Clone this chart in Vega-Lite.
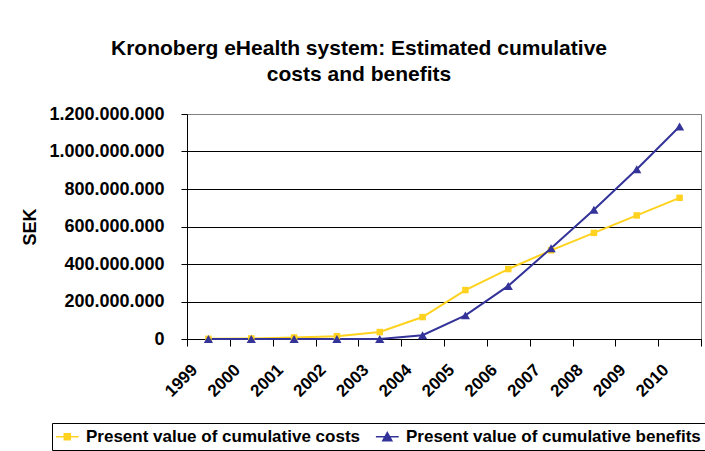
{
  "$schema": "https://vega.github.io/schema/vega-lite/v6.json",
  "autosize": {"type": "none"},
  "padding": {"left": 187, "top": 114, "right": 4, "bottom": 112},
  "width": 514,
  "height": 225,
  "background": "white",
  "title": {
    "text": ["Kronoberg eHealth system: Estimated cumulative", "costs and benefits"],
    "font": "Liberation Sans",
    "fontSize": 21,
    "fontWeight": "bold",
    "lineHeight": 26,
    "color": "black",
    "anchor": "middle",
    "dx": -85,
    "offset": 20
  },
  "config": {
    "locale": {"number": {"decimal": ",", "thousands": ".", "grouping": [3], "currency": ["", " kr"]}},
    "view": {"stroke": "#808080", "strokeWidth": 1}
  },
  "data": {
    "values": [
      {"year": "1999", "series": "Present value of cumulative costs", "value": 1000000},
      {"year": "2000", "series": "Present value of cumulative costs", "value": 3000000},
      {"year": "2001", "series": "Present value of cumulative costs", "value": 8000000},
      {"year": "2002", "series": "Present value of cumulative costs", "value": 15000000},
      {"year": "2003", "series": "Present value of cumulative costs", "value": 37000000},
      {"year": "2004", "series": "Present value of cumulative costs", "value": 117000000},
      {"year": "2005", "series": "Present value of cumulative costs", "value": 261000000},
      {"year": "2006", "series": "Present value of cumulative costs", "value": 373000000},
      {"year": "2007", "series": "Present value of cumulative costs", "value": 473000000},
      {"year": "2008", "series": "Present value of cumulative costs", "value": 566000000},
      {"year": "2009", "series": "Present value of cumulative costs", "value": 659000000},
      {"year": "2010", "series": "Present value of cumulative costs", "value": 753000000},
      {"year": "1999", "series": "Present value of cumulative benefits", "value": 0},
      {"year": "2000", "series": "Present value of cumulative benefits", "value": 0},
      {"year": "2001", "series": "Present value of cumulative benefits", "value": 0},
      {"year": "2002", "series": "Present value of cumulative benefits", "value": 0},
      {"year": "2003", "series": "Present value of cumulative benefits", "value": 0},
      {"year": "2004", "series": "Present value of cumulative benefits", "value": 20000000},
      {"year": "2005", "series": "Present value of cumulative benefits", "value": 126000000},
      {"year": "2006", "series": "Present value of cumulative benefits", "value": 283000000},
      {"year": "2007", "series": "Present value of cumulative benefits", "value": 484000000},
      {"year": "2008", "series": "Present value of cumulative benefits", "value": 689000000},
      {"year": "2009", "series": "Present value of cumulative benefits", "value": 905000000},
      {"year": "2010", "series": "Present value of cumulative benefits", "value": 1133000000}
    ]
  },
  "encoding": {
    "x": {
      "field": "year",
      "type": "ordinal",
      "bandPosition": 0.5,
      "scale": {"type": "band", "paddingInner": 0, "paddingOuter": 0},
      "axis": {
        "title": null,
        "labelAngle": -45,
        "labelAlign": "right",
        "labelBaseline": "middle",
        "labelFont": "Liberation Sans",
        "labelFontSize": 17,
        "labelFontWeight": "bold",
        "labelColor": "black",
        "labelPadding": 21,
        "labelOffset": -14,
        "labelOverlap": false,
        "tickSize": 7,
        "tickColor": "black",
        "tickBand": "extent",
        "domainColor": "black",
        "grid": false
      }
    },
    "y": {
      "field": "value",
      "type": "quantitative",
      "scale": {"domain": [0, 1200000000], "nice": false},
      "axis": {
        "title": "SEK",
        "titleFont": "Liberation Sans",
        "titleFontSize": 18,
        "titleFontWeight": "bold",
        "titleColor": "black",
        "titlePadding": 9,
        "values": [0, 200000000, 400000000, 600000000, 800000000, 1000000000, 1200000000],
        "format": ",.0f",
        "labelFont": "Liberation Sans",
        "labelFontSize": 18,
        "labelFontWeight": "bold",
        "labelColor": "black",
        "labelPadding": 17,
        "tickSize": 6,
        "tickColor": "black",
        "domainColor": "black",
        "gridColor": {"condition": {"test": "datum.value >= 1200000000", "value": "#808080"}, "value": "black"},
        "gridWidth": 1,
        "gridOpacity": 1
      }
    }
  },
  "layer": [
    {
      "mark": {"type": "line", "strokeWidth": 2},
      "encoding": {
        "color": {
          "field": "series",
          "type": "nominal",
          "scale": {"domain": ["Present value of cumulative costs", "Present value of cumulative benefits"], "range": ["#FFD21F", "#333399"]},
          "legend": {
            "orient": "none",
            "legendX": -135,
            "legendY": 309,
            "direction": "horizontal",
            "title": null,
            "labelFont": "Liberation Sans",
            "labelFontSize": 17,
            "labelFontWeight": "bold",
            "labelColor": "black",
            "labelLimit": 0,
            "strokeColor": "black",
            "fillColor": "white",
            "padding": 5,
            "columnPadding": 12,
            "symbolSize": 144,
            "labelOffset": 12,
            "symbolStrokeWidth": 1.5,
            "encode": {
              "symbols": {
                "update": {
                  "shape": {"signal": "datum.value === 'Present value of cumulative costs' ? 'M-1.6,0H2.2M-0.2,-0.5H0.8V0.5H-0.2Z' : 'M-1.6,0H2.2M0.3,-0.7L1.05,0.65L-0.45,0.65Z'"},
                  "fill": {"scale": "color", "field": "value"},
                  "stroke": {"scale": "color", "field": "value"},
                  "strokeWidth": {"value": 1.5},
                  "opacity": {"value": 1},
                  "fillOpacity": {"value": 1},
                  "strokeOpacity": {"value": 1}
                }
              }
            }
          }
        }
      }
    },
    {
      "transform": [{"filter": "datum.series === 'Present value of cumulative costs'"}],
      "mark": {"type": "point", "shape": "square", "filled": true, "opacity": 1, "size": 42, "color": "#FFD21F"}
    },
    {
      "transform": [{"filter": "datum.series === 'Present value of cumulative benefits'"}],
      "mark": {"type": "point", "shape": "triangle-up", "filled": true, "opacity": 1, "size": 85, "color": "#333399"}
    }
  ]
}
